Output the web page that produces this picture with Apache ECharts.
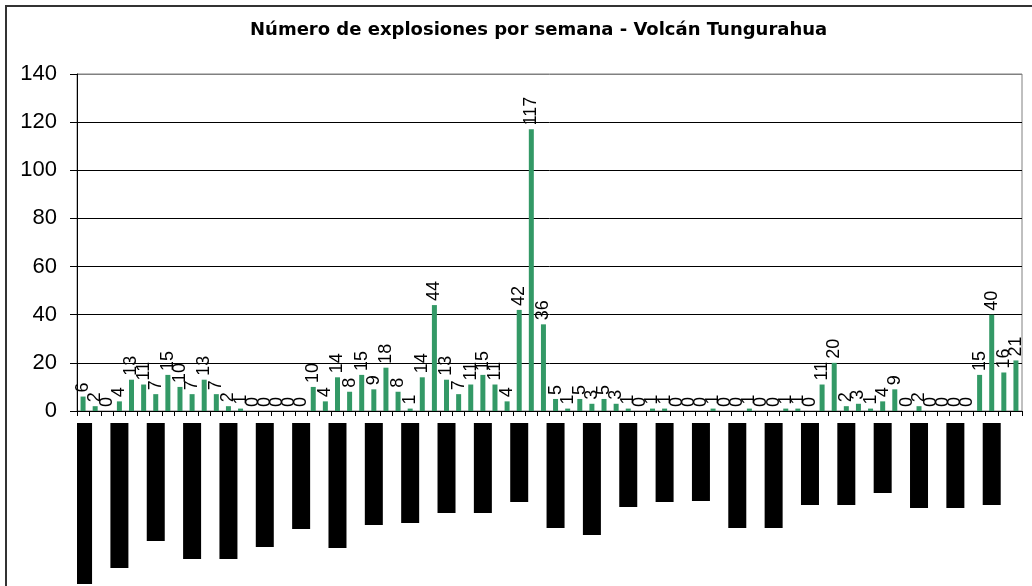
<!DOCTYPE html>
<html>
<head>
<meta charset="utf-8">
<title>Número de explosiones por semana - Volcán Tungurahua</title>
<script src="https://cdn.jsdelivr.net/npm/echarts@6/dist/echarts.min.js"></script>
<style>
html, body { margin: 0; padding: 0; background: #fff; }
#chart { width: 1032px; height: 586px; }
</style>
</head>
<body>
<div id="chart"></div>
<script>
// explosiones por semana (78 semanas)
var explosiones = [
    6, 2, 0, 4, 13, 11, 7, 15, 10, 7,
    13, 7, 2, 1, 0, 0, 0, 0, 0, 10,
    4, 14, 8, 15, 9, 18, 8, 1, 14, 44,
    13, 7, 11, 15, 11, 4, 42, 117, 36, 5,
    1, 5, 3, 5, 3, 1, 0, 1, 1, 0,
    0, 0, 1, 0, 0, 1, 0, 0, 1, 1,
    0, 11, 20, 2, 3, 1, 4, 9, 0, 2,
    0, 0, 0, 0, 15, 40, 16, 21
]
var semanas = explosiones.map(function (v, i) { return 'Semana ' + (i + 1) })
var yTicks = [0, 20, 40, 60, 80, 100, 120, 140]
// etiquetas de fecha (cada 3 semanas) que salen como bloques negros, largo en px
var bloquesEtiqueta = [161, 145, 118, 136, 136, 124, 106, 125, 102, 100, 90, 90, 79,
    105, 112, 84, 79, 78, 105, 105, 82, 82, 70, 85, 85, 82]

var bloques = semanas.map(function (s, i) {
    return i % 3 === 0 ? bloquesEtiqueta[i / 3] : '-'
})

var chart = echarts.init(document.getElementById('chart'))
var option = {
    animation: false,
    backgroundColor: '#fff',
    title: {
        text: 'Número de explosiones por semana - Volcán Tungurahua',
        left: 245,
        top: 16,
        textStyle: {
            fontFamily: 'DejaVu Sans, sans-serif',
            fontSize: 18,
            fontWeight: 'bold',
            color: '#000'
        }
    },
    graphic: [{
        type: 'polyline',
        shape: { points: [[6, 600], [6, 6], [1040, 6]] },
        style: { stroke: '#333', lineWidth: 2, fill: null },
        silent: true
    }],
    grid: [
        { left: 77, right: 10, top: 74, height: 337, show: true, borderColor: '#808080', borderWidth: 1 },
        { left: 77, right: 10, top: 423, bottom: 0 }
    ],
    xAxis: [{
        type: 'category',
        gridIndex: 0,
        data: semanas,
        axisLine: { lineStyle: { color: '#000', width: 1 } },
        axisTick: { show: true, interval: 0, length: 5, lineStyle: { color: '#000' } },
        axisLabel: { show: false }
    }, {
        type: 'category',
        gridIndex: 1,
        data: semanas,
        show: false
    }],
    yAxis: [{
        type: 'value',
        gridIndex: 0,
        min: 0,
        max: 140,
        interval: 20,
        axisLine: { show: true, lineStyle: { color: '#000', width: 1 } },
        axisTick: { show: true, length: 7, lineStyle: { color: '#000' } },
        axisLabel: {
            margin: 20,
            fontFamily: 'Liberation Sans, Arial, sans-serif',
            fontSize: 22,
            color: '#000',
            formatter: function (v) { return yTicks.indexOf(v) >= 0 ? String(v) : '' }
        },
        splitLine: {
            lineStyle: {
                color: ['#000', '#000', '#000', '#000', '#000', '#000', '#000', '#808080'],
                width: 1
            }
        }
    }, {
        type: 'value',
        gridIndex: 1,
        min: 0,
        max: 163,
        inverse: true,
        show: false
    }],
    series: [{
        name: 'Explosiones',
        type: 'bar',
        xAxisIndex: 0,
        yAxisIndex: 0,
        data: explosiones,
        barWidth: 5,
        itemStyle: { color: '#339966' },
        label: {
            show: true,
            position: 'top',
            rotate: 90,
            align: 'left',
            verticalAlign: 'middle',
            distance: 4,
            fontFamily: 'Liberation Sans, Arial, sans-serif',
            fontSize: 18,
            color: '#000'
        }
    }, {
        name: 'Fechas',
        type: 'bar',
        xAxisIndex: 1,
        yAxisIndex: 1,
        data: bloques,
        barWidth: 18,
        itemStyle: { color: '#000' },
        silent: true
    }]
}
chart.setOption(option)
window.onresize = function () { chart.resize() }
</script>
</body>
</html>
